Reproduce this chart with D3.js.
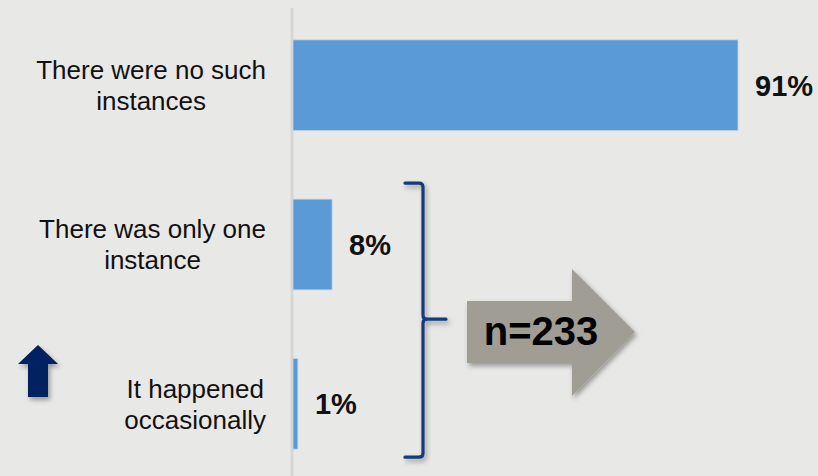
<!DOCTYPE html>
<html>
<head>
<meta charset="utf-8">
<script src="https://cdn.jsdelivr.net/npm/d3@7"></script>
<style>
  body { margin: 0; background: #e8e8e7; }
  svg { display: block; }
</style>
</head>
<body>
<div id="vis"></div>
<script>
// chart data
var categories = [
    ["There were no such", "instances"],
    ["There was only one", "instance"],
    ["It happened", "occasionally"]
];
var values = [91, 8, 1];
var valueLabels = ["91%", "8%", "1%"];
var sampleLabel = "n=233";

var width = 818;
var height = 476;

var svg = d3.select("#vis").append("svg")
    .attr("width", width)
    .attr("height", height);

var defs = svg.append("defs");
var shadow = defs.append("filter")
    .attr("id", "shadow")
    .attr("x", "-20%").attr("y", "-20%")
    .attr("width", "150%").attr("height", "150%");
shadow.append("feDropShadow")
    .attr("dx", 2).attr("dy", 3)
    .attr("stdDeviation", 2.5)
    .attr("flood-color", "#000")
    .attr("flood-opacity", 0.35);

svg.append("rect")
    .attr("width", width)
    .attr("height", height)
    .attr("fill", "#e8e8e7");

// scales
var x = d3.scaleLinear()
    .domain([0, 91])
    .range([293, 738]);

var y = d3.scaleBand()
    .domain(d3.range(categories.length))
    .range([8, 481])
    .paddingInner(0.43)
    .paddingOuter(0.2);

var font = "'Liberation Sans', Arial, sans-serif";

// vertical axis line
svg.append("line")
    .attr("x1", 292).attr("x2", 292)
    .attr("y1", 8).attr("y2", height)
    .attr("stroke", "#d6d6d6")
    .attr("stroke-width", 3);

// bars
svg.selectAll(".bar")
    .data(values)
    .enter().append("rect")
    .attr("class", "bar")
    .attr("x", x(0))
    .attr("y", function(d, i) { return y(i); })
    .attr("width", function(d) { return x(d) - x(0); })
    .attr("height", y.bandwidth())
    .attr("fill", "#5b9bd5")
    .attr("stroke", "#c5d5e8")
    .attr("stroke-width", 0.8);

// value labels
svg.selectAll(".value")
    .data(values)
    .enter().append("text")
    .attr("class", "value")
    .attr("x", function(d) { return x(d) + 17; })
    .attr("y", function(d, i) { return y(i) + y.bandwidth() / 2; })
    .attr("dy", "0.36em")
    .attr("font-family", font)
    .attr("font-weight", "bold")
    .attr("font-size", 29)
    .attr("fill", "#111")
    .text(function(d, i) { return valueLabels[i]; });

// category labels, centred block aligned to the right
var labelRight = 266;
categories.forEach(function(lines, i) {
    var cy = y(i) + y.bandwidth() / 2;
    var t = svg.append("text")
        .attr("font-family", font)
        .attr("font-size", 26)
        .attr("fill", "#111")
        .attr("text-anchor", "middle");
    lines.forEach(function(line, j) {
        t.append("tspan")
            .attr("y", cy + (j - (lines.length - 1) / 2) * 31)
            .attr("dy", "0.36em")
            .text(line);
    });
    var maxW = 0;
    t.selectAll("tspan").each(function() {
        maxW = Math.max(maxW, this.getComputedTextLength());
    });
    t.selectAll("tspan").attr("x", labelRight - maxW / 2);
});

// bracket around the last two bars
var bTop = y(1) - 16;
var bBot = y(2) + y.bandwidth() + 8;
var bMid = (bTop + bBot) / 2 - 1;
var bx = 423;
svg.append("path")
    .attr("d", "M405," + bTop + " L" + (bx - 4) + "," + bTop +
        " Q" + bx + "," + bTop + " " + bx + "," + (bTop + 4) +
        " L" + bx + "," + (bMid - 4) +
        " Q" + bx + "," + bMid + " " + (bx + 4) + "," + bMid +
        " L446," + bMid +
        " M" + (bx + 4) + "," + bMid +
        " Q" + bx + "," + bMid + " " + bx + "," + (bMid + 4) +
        " L" + bx + "," + (bBot - 4) +
        " Q" + bx + "," + bBot + " " + (bx - 4) + "," + bBot +
        " L405," + bBot)
    .attr("fill", "none")
    .attr("stroke", "#123a7a")
    .attr("stroke-width", 3.2)
    .attr("stroke-linecap", "round")
    .attr("filter", "url(#shadow)");

// big grey arrow with sample size
svg.append("path")
    .attr("d", "M467,301 L572,301 L572,269 L635,332 L572,396 L572,363 L467,363 Z")
    .attr("fill", "#a09d95")
    .attr("filter", "url(#shadow)");

svg.append("text")
    .attr("x", 541)
    .attr("y", 345)
    .attr("text-anchor", "middle")
    .attr("font-family", font)
    .attr("font-weight", "bold")
    .attr("font-size", 40)
    .attr("fill", "#000")
    .text(sampleLabel);

// small dark up arrow
svg.append("path")
    .attr("d", "M38,345 L58,364 L48,364 L48,397 L28,397 L28,364 L18,364 Z")
    .attr("fill", "#002060")
    .attr("filter", "url(#shadow)");
</script>
</body>
</html>
